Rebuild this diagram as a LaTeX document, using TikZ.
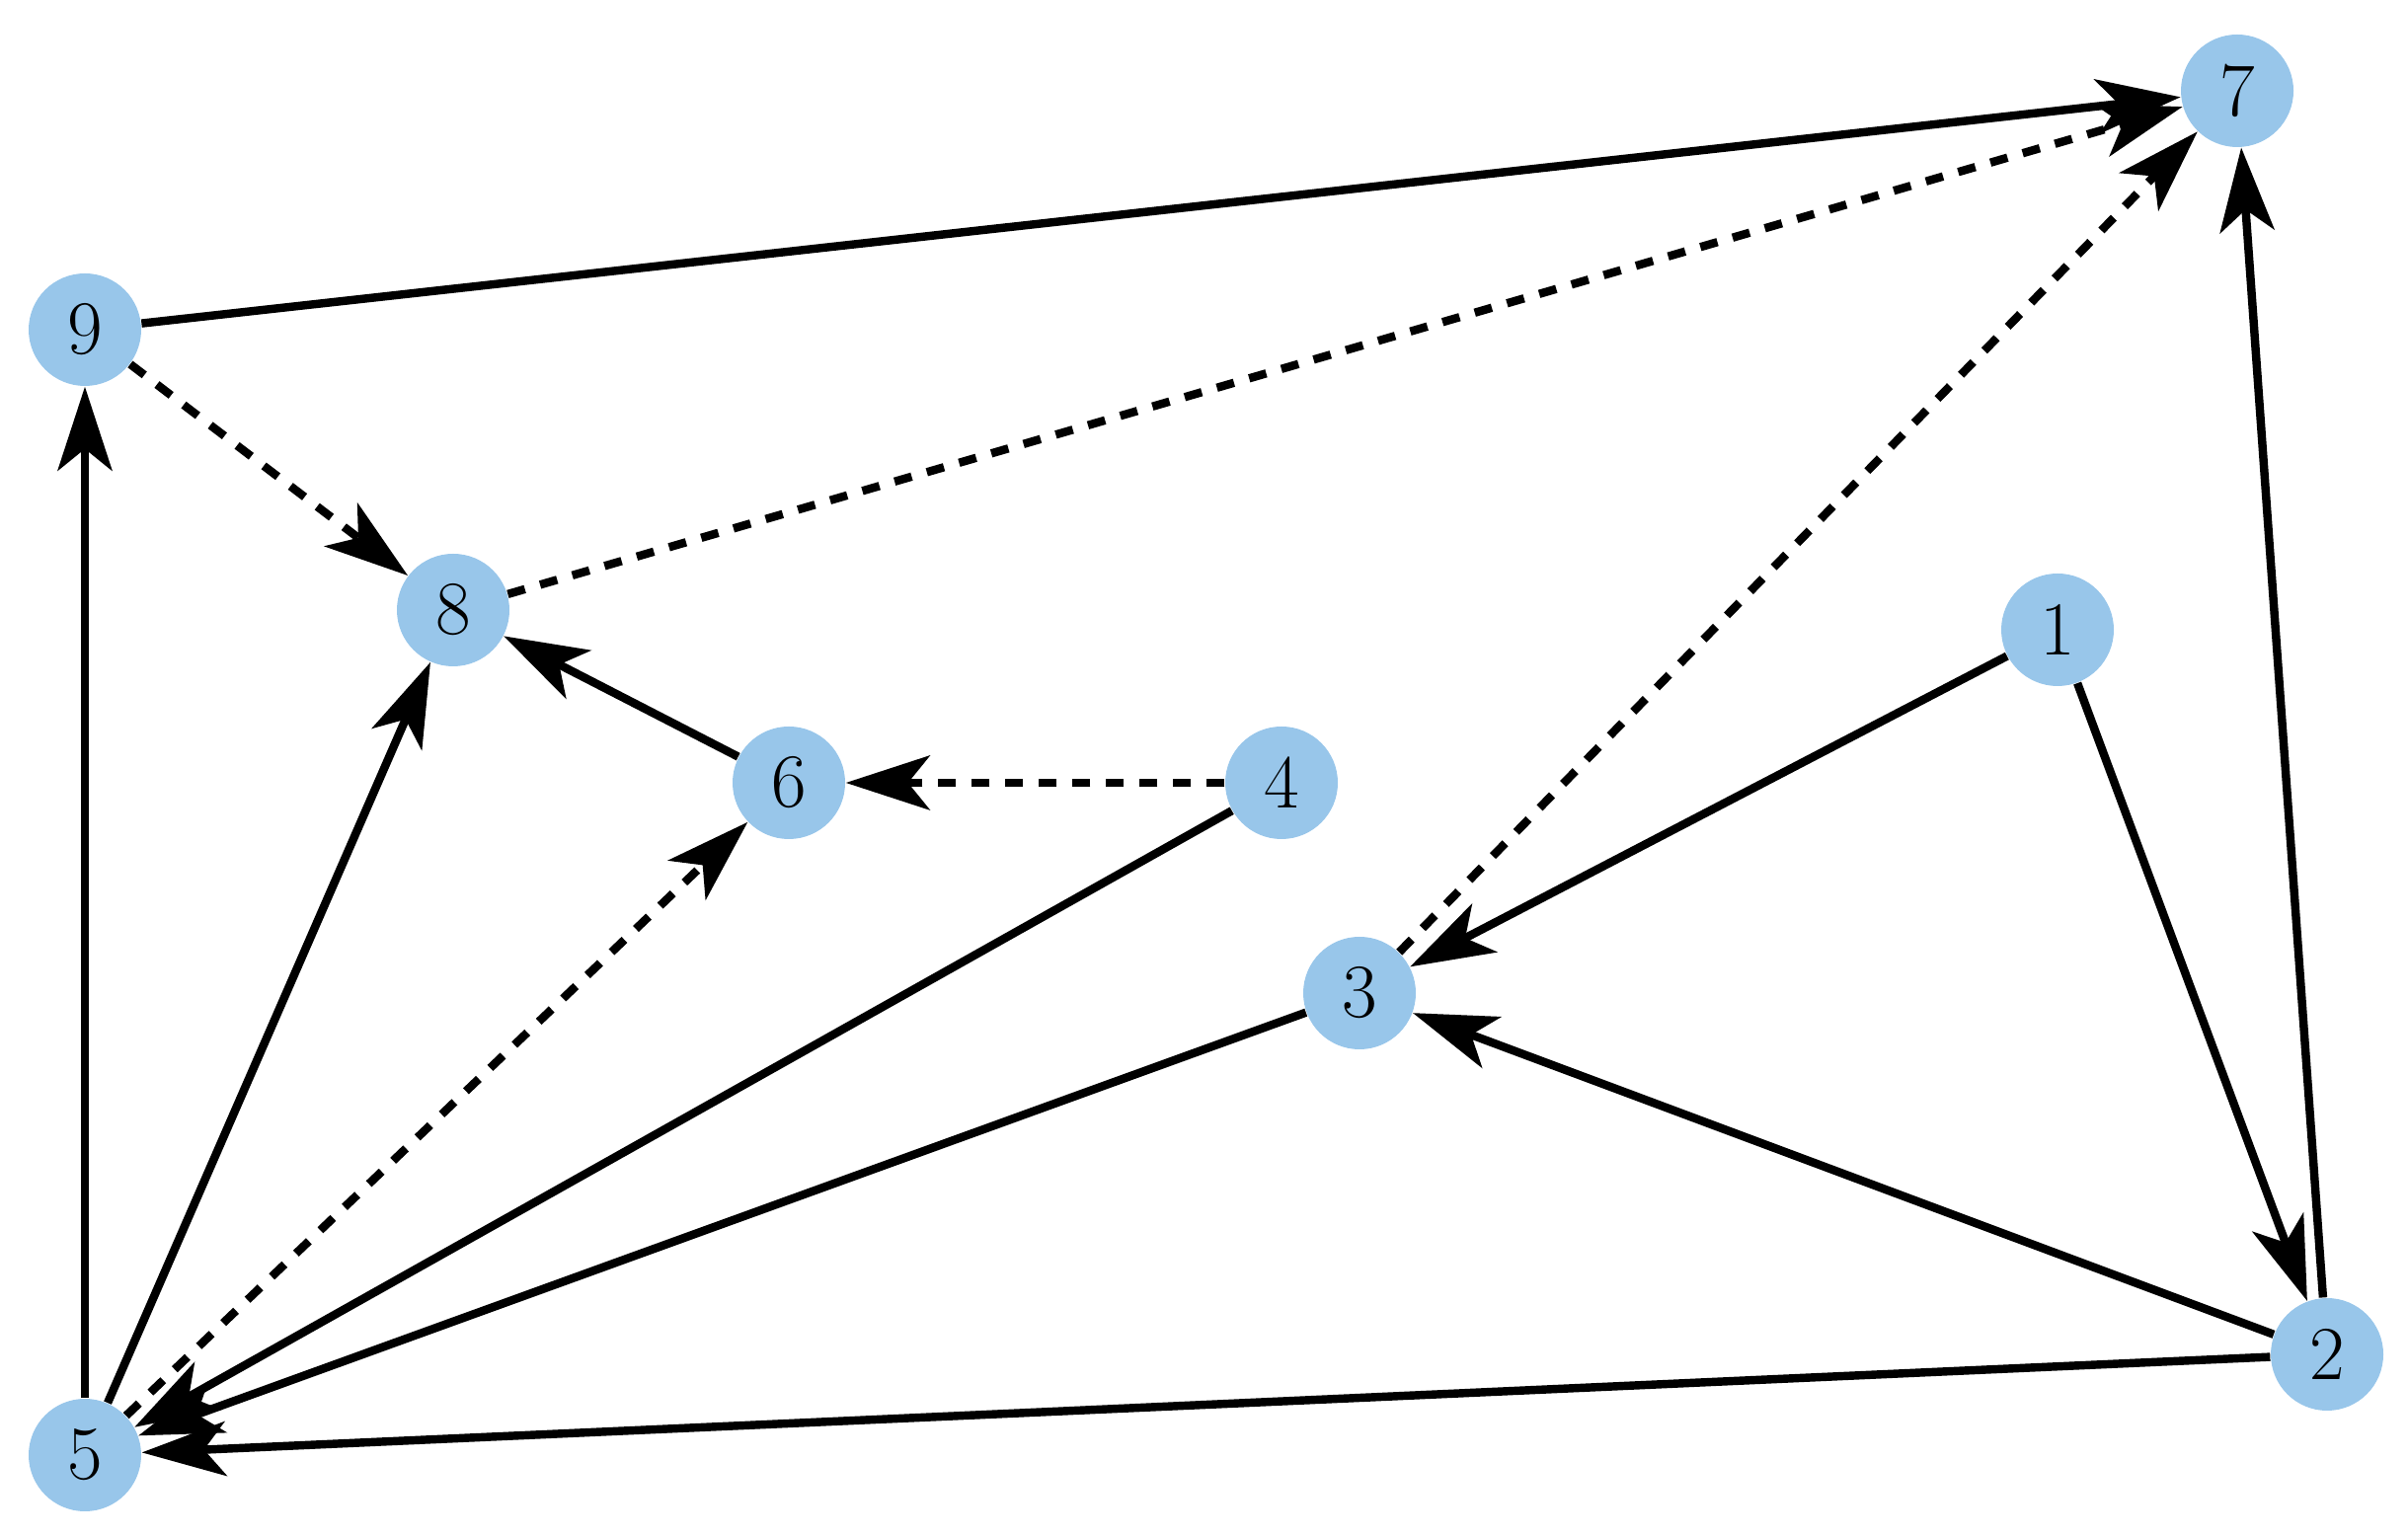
\documentclass[tikz,border=0pt]{standalone}
\usetikzlibrary{arrows.meta}
\definecolor{nodeblue}{RGB}{152,198,234}
\begin{document}
\begin{tikzpicture}[
  vert/.style={circle,fill=nodeblue,draw=none,minimum size=1.14cm,inner sep=0pt,font=\fontsize{22}{26}\selectfont},
  edge/.style={line width=2.4pt,-{Stealth[length=0.85cm,width=0.55cm,inset=0.22cm]}},
  dedge/.style={edge,dash pattern=on 0.18cm off 0.16cm}
]
\useasboundingbox (0,0) rectangle (24.39,15.56);
\node[vert] (n7) at (22.66,14.64) {7};
\node[vert] (n9) at (0.86,12.22) {9};
\node[vert] (n8) at (4.59,9.38) {8};
\node[vert] (n1) at (20.84,9.18) {1};
\node[vert] (n6) at (7.99,7.63) {6};
\node[vert] (n4) at (12.98,7.63) {4};
\node[vert] (n3) at (13.77,5.50) {3};
\node[vert] (n2) at (23.57,1.84) {2};
\node[vert] (n5) at (0.86,0.82) {5};

\draw[edge] (n9) -- (n7);
\draw[dedge] (n8) -- (n7);
\draw[dedge] (n3) -- (n7);
\draw[edge] (n2) -- (n7);
\draw[dedge] (n9) -- (n8);
\draw[edge] (n5) -- (n9);
\draw[edge] (n5) -- (n8);
\draw[edge] (n6) -- (n8);
\draw[dedge] (n4) -- (n6);
\draw[dedge] (n5) -- (n6);
\draw[edge] (n4) -- (n5);
\draw[edge] (n3) -- (n5);
\draw[edge] (n2) -- (n5);
\draw[edge] (n2) -- (n3);
\draw[edge] (n1) -- (n3);
\draw[edge] (n1) -- (n2);
\end{tikzpicture}
\end{document}
